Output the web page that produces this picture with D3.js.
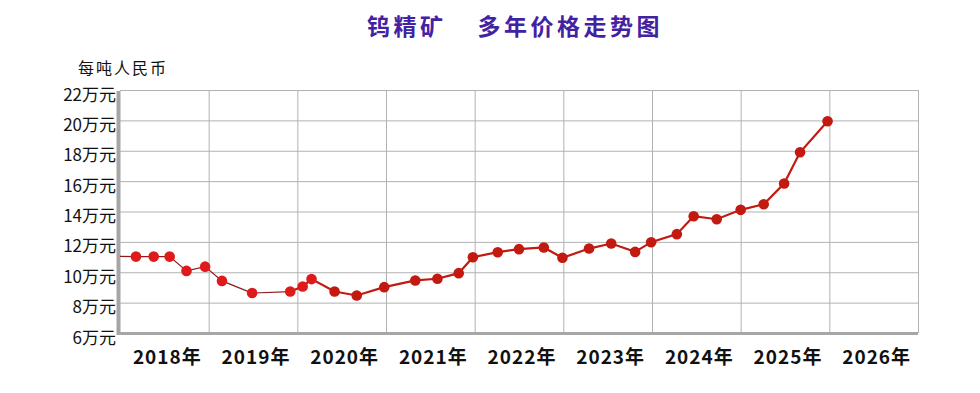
<!DOCTYPE html>
<html>
<head>
<meta charset="utf-8">
<script src="https://cdn.jsdelivr.net/npm/d3@7"></script>
<style>
  body { margin: 0; background: #fff; }
  text { font-family: "Noto Sans CJK SC", "Noto Sans", sans-serif; }
</style>
</head>
<body>
<div id="chart"></div>
<script>
// data (decimal year, 万元 per ton)
const dates = [2018.0, 2018.18, 2018.38, 2018.56, 2018.75, 2018.96, 2019.15, 2019.49, 2019.92,
  2020.06, 2020.16, 2020.42, 2020.67, 2020.98, 2021.33, 2021.58, 2021.82, 2021.98,
  2022.26, 2022.5, 2022.78, 2022.99, 2023.29, 2023.54, 2023.81, 2023.99,
  2024.28, 2024.47, 2024.73, 2025.0, 2025.26, 2025.49, 2025.67, 2025.98]
const prices = [11.05, 11.03, 11.03, 11.03, 10.09, 10.37, 9.43, 8.63, 8.73,
  9.06, 9.55, 8.73, 8.47, 9.02, 9.46, 9.57, 9.94, 10.99,
  11.32, 11.52, 11.63, 10.95, 11.56, 11.89, 11.34, 11.98,
  12.51, 13.69, 13.49, 14.11, 14.48, 15.84, 17.9, 19.94]
const years = [2018, 2019, 2020, 2021, 2022, 2023, 2024, 2025, 2026]
const yTicks = [6, 8, 10, 12, 14, 16, 18, 20, 22]
const title = ['钨精矿', '多年价格走势图']
const unitLabel = '每吨人民币'
const oldCount = 9 // first part of the series is drawn in the older thin style

const W = 980
const H = 393
const margin = { top: 90, right: 62, bottom: 60, left: 120 }
const width = W - margin.left - margin.right
const height = H - margin.top - margin.bottom

const svg = d3.select('#chart')
  .append('svg')
  .attr('width', W)
  .attr('height', H)

// title
const t = svg.append('text')
  .attr('x', 367)
  .attr('y', 35)
  .style('font-size', '23px')
  .style('font-weight', 'bold')
  .style('letter-spacing', '3.5px')
  .attr('fill', '#4321a3')
t.append('tspan').text(title[0])
t.append('tspan').attr('dx', 31).text(title[1])

svg.append('text')
  .attr('x', 78)
  .attr('y', 74)
  .style('font-size', '16px')
  .style('letter-spacing', '2px')
  .attr('fill', '#111')
  .text(unitLabel)

const g = svg.append('g')
  .attr('transform', 'translate(' + margin.left + ',' + margin.top + ')')

const x = d3.scaleLinear()
  .domain([years[0], years[years.length - 1] + 1])
  .range([0, width])
const xBand = d3.scaleBand()
  .domain(years)
  .range([0, width])
const y = d3.scaleLinear()
  .domain([yTicks[0], yTicks[yTicks.length - 1]])
  .range([height, 0])

// grid
g.append('g')
  .call(d3.axisLeft(y).tickValues(yTicks).tickSize(-width).tickFormat(''))
  .call(a => a.select('.domain').remove())
  .selectAll('line')
  .attr('stroke', '#b2b2b2')

g.append('g')
  .call(d3.axisBottom(x).tickValues(years.slice(1).concat([years[years.length - 1] + 1]))
    .tickSize(height).tickFormat(''))
  .call(a => a.select('.domain').remove())
  .selectAll('line')
  .attr('stroke', '#b2b2b2')

// frame: thick left and bottom
g.append('line')
  .attr('x1', -1.5).attr('x2', -1.5)
  .attr('y1', 1).attr('y2', height + 2)
  .attr('stroke', '#a6a6a6')
  .attr('stroke-width', 4)
g.append('line')
  .attr('x1', -3).attr('x2', width)
  .attr('y1', height + 0.5).attr('y2', height + 0.5)
  .attr('stroke', '#a6a6a6')
  .attr('stroke-width', 3)

// y labels
g.append('g')
  .selectAll('text')
  .data(yTicks)
  .enter()
  .append('text')
  .attr('x', -4)
  .attr('y', d => y(d) + 6)
  .attr('text-anchor', 'end')
  .attr('dominant-baseline', 'middle')
  .style('font-size', '17px')
  .attr('fill', '#111')
  .text(d => d + '万元')

// x labels
g.append('g')
  .selectAll('text')
  .data(years)
  .enter()
  .append('text')
  .attr('x', d => xBand(d) + xBand.bandwidth() / 2 + 3)
  .attr('y', height + 31)
  .attr('text-anchor', 'middle')
  .style('font-size', '19px')
  .style('font-weight', 'bold')
  .style('letter-spacing', '1px')
  .attr('fill', '#111')
  .text(d => d + '年')

// series
const pts = dates.map((d, i) => ({ t: d, v: prices[i], i: i }))
const line = d3.line()
  .x(d => x(d.t))
  .y(d => y(d.v))

g.append('path')
  .datum(pts.slice(0, oldCount))
  .attr('d', line)
  .attr('fill', 'none')
  .attr('stroke', '#8e1a1a')
  .attr('stroke-width', 1.2)

g.append('path')
  .datum(pts.slice(oldCount - 1))
  .attr('d', line)
  .attr('fill', 'none')
  .attr('stroke', '#c11a10')
  .attr('stroke-width', 2.2)

g.append('g')
  .selectAll('circle')
  .data(pts.slice(1))
  .enter()
  .append('circle')
  .attr('cx', d => x(d.t))
  .attr('cy', d => y(d.v))
  .attr('r', 5.3)
  .attr('fill', d => d.i < oldCount + 2 ? '#df1a1a' : '#c21a10')
</script>
</body>
</html>
